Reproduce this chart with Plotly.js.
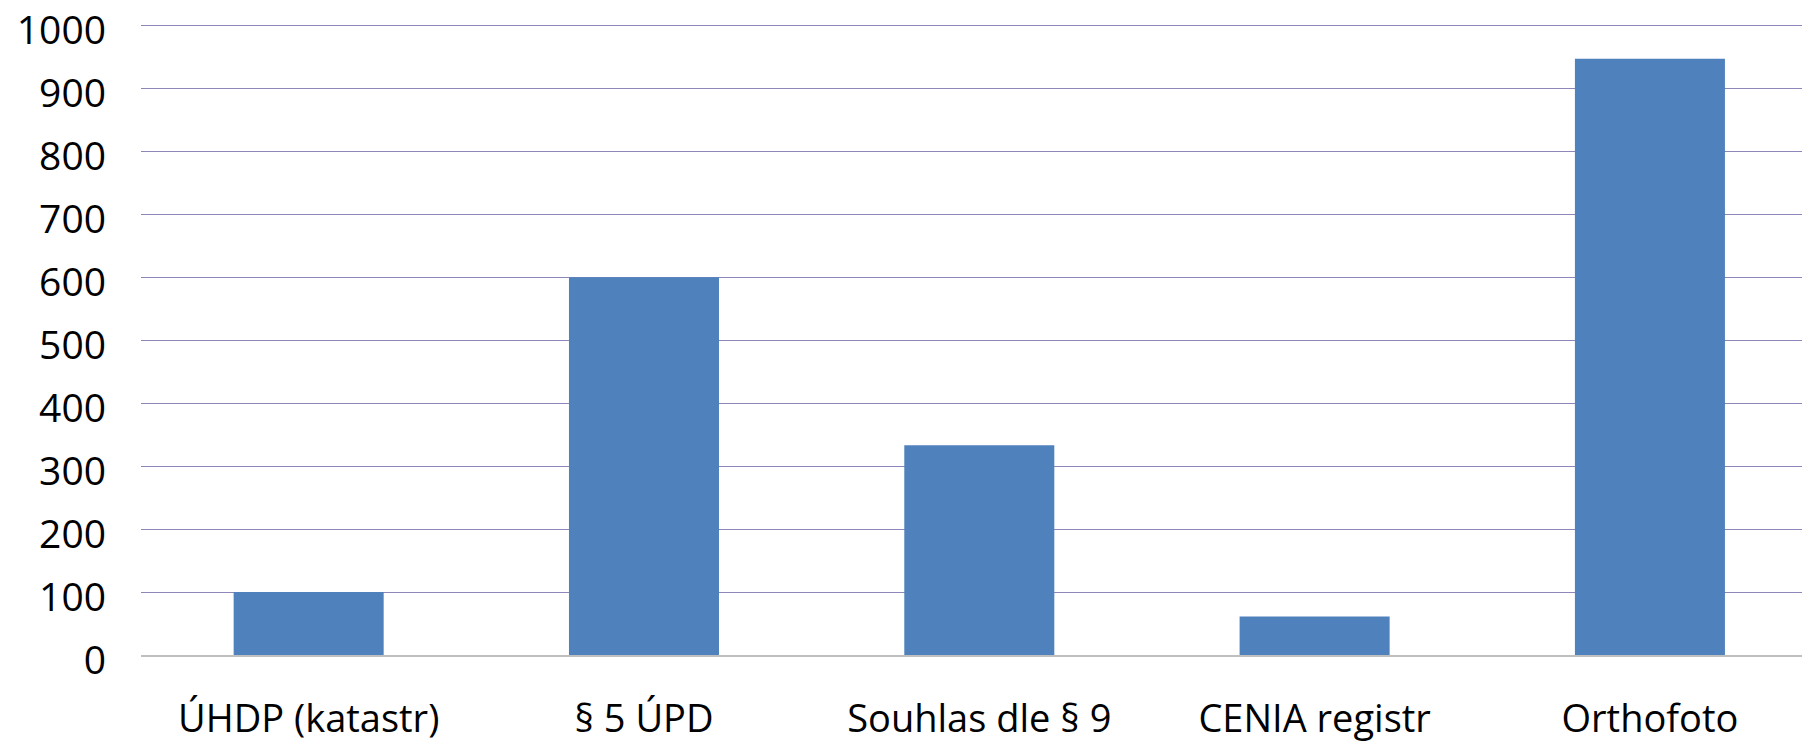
<!DOCTYPE html>
<html>
<head>
<meta charset="utf-8">
<script src="https://cdn.plot.ly/plotly-3.0.1.min.js"></script>
<style>
  html, body { margin: 0; padding: 0; background: #ffffff; }
  #chart { width: 1802px; height: 745px; }
</style>
</head>
<body>
<div id="chart"></div>
<script>
const categories = ["ÚHDP (katastr)", "§ 5 ÚPD", "Souhlas dle § 9", "CENIA registr", "Orthofoto"];
const values = [100, 600, 333, 61, 947];
const yTickValues = [0, 100, 200, 300, 400, 500, 600, 700, 800, 900, 1000];

const font = "'Open Sans', 'Noto Sans', sans-serif";

const trace = {
  type: "bar",
  x: categories,
  y: values,
  marker: { color: "#4f81bd", line: { width: 0 } },
  hoverinfo: "none"
};

const layout = {
  width: 1802,
  height: 745,
  margin: { l: 141, r: 0, t: 24, b: 90, pad: 0 },
  paper_bgcolor: "#ffffff",
  plot_bgcolor: "#ffffff",
  showlegend: false,
  bargap: 0.5526,
  font: { family: font, size: 39, color: "#000000" },
  xaxis: {
    type: "category",
    range: [-0.5, 4.4535],
    showgrid: false,
    showline: true,
    linecolor: "#bfbfbf",
    linewidth: 2,
    zeroline: false,
    ticks: "",
    ticklabelstandoff: 29,
    ticklabeloverflow: "allow",
    tickfont: { family: font, size: 38, color: "#000000" },
    fixedrange: true
  },
  yaxis: {
    range: [0, 1002],
    tickvals: yTickValues,
    ticktext: yTickValues.map(String),
    showgrid: true,
    gridcolor: "#8c87b8",
    gridwidth: 1,
    zeroline: false,
    showline: false,
    ticks: "",
    ticklabelstandoff: 34,
    ticklabelshift: 5,
    ticklabeloverflow: "allow",
    tickfont: { family: font, size: 39, color: "#000000" },
    fixedrange: true
  }
};

Plotly.newPlot("chart", [trace], layout, { displayModeBar: false, staticPlot: true });
</script>
</body>
</html>
